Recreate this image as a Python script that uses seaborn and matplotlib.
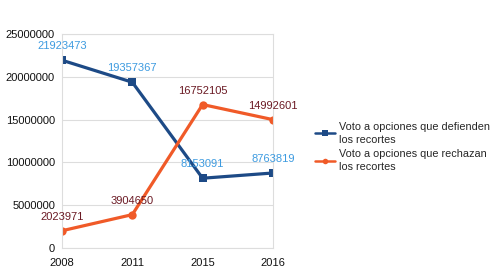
import matplotlib
matplotlib.use("Agg")
import matplotlib.pyplot as plt
import seaborn as sns
import pandas as pd

years = ["2008", "2011", "2015", "2016"]
defienden = [21923473, 19357367, 8153091, 8763819]
rechazan = [2023971, 3904650, 16752105, 14992601]
series_names = ["Voto a opciones que defienden\nlos recortes",
                "Voto a opciones que rechazan\nlos recortes"]
yticks = [0, 5000000, 10000000, 15000000, 20000000, 25000000]

sns.set_style("white")
plt.rcParams["font.family"] = ["Liberation Sans", "DejaVu Sans"]

df = pd.DataFrame({
    "year": years * 2,
    "value": defienden + rechazan,
    "serie": [series_names[0]] * 4 + [series_names[1]] * 4,
})

line_colors = ["#1d4a86", "#f05a28"]
label_colors = ["#3d9be0", "#6b1a24"]

fig = plt.figure(figsize=(4.98, 2.8), dpi=100)
ax = fig.add_axes([0.1245, 0.114, 0.4235, 0.765])

sns.lineplot(data=df, x="year", y="value", hue="serie", style="serie",
             palette=line_colors, markers=["s", "o"], dashes=False,
             linewidth=2.3, markersize=6, markeredgewidth=0, ax=ax)

for vals, col in zip([defienden, rechazan], label_colors):
    for i, v in enumerate(vals):
        ax.annotate(str(v), (i, v), xytext=(0, 10), textcoords="offset points",
                    ha="center", va="center", fontsize=8, color=col)

ax.set_xlim(0, 3)
ax.set_ylim(0, 25000000)
ax.set_yticks(yticks)
ax.set_yticklabels([str(t) for t in yticks])
ax.set_xlabel("")
ax.set_ylabel("")
ax.grid(axis="y", color="#dddddd", linewidth=0.8)
ax.set_axisbelow(True)
for s in ax.spines.values():
    s.set_color("#dddddd")
    s.set_linewidth(0.8)
ax.tick_params(axis="x", length=0, labelsize=8, pad=7, colors="#111111")
ax.tick_params(axis="y", length=0, labelsize=8, pad=5, colors="#111111")

handles, labels = ax.get_legend_handles_labels()
for h in handles:
    h.set_linewidth(1.8)
    h.set_markersize(4)
leg = ax.legend(handles, labels, loc="center left", bbox_to_anchor=(0.624, 0.475),
                bbox_transform=fig.transFigure, frameon=False, fontsize=7.8,
                handlelength=1.8, handletextpad=0.4, labelspacing=0.45,
                borderaxespad=0)
for t in leg.get_texts():
    t.set_linespacing(1.35)

fig.savefig("out.png", dpi=100)
